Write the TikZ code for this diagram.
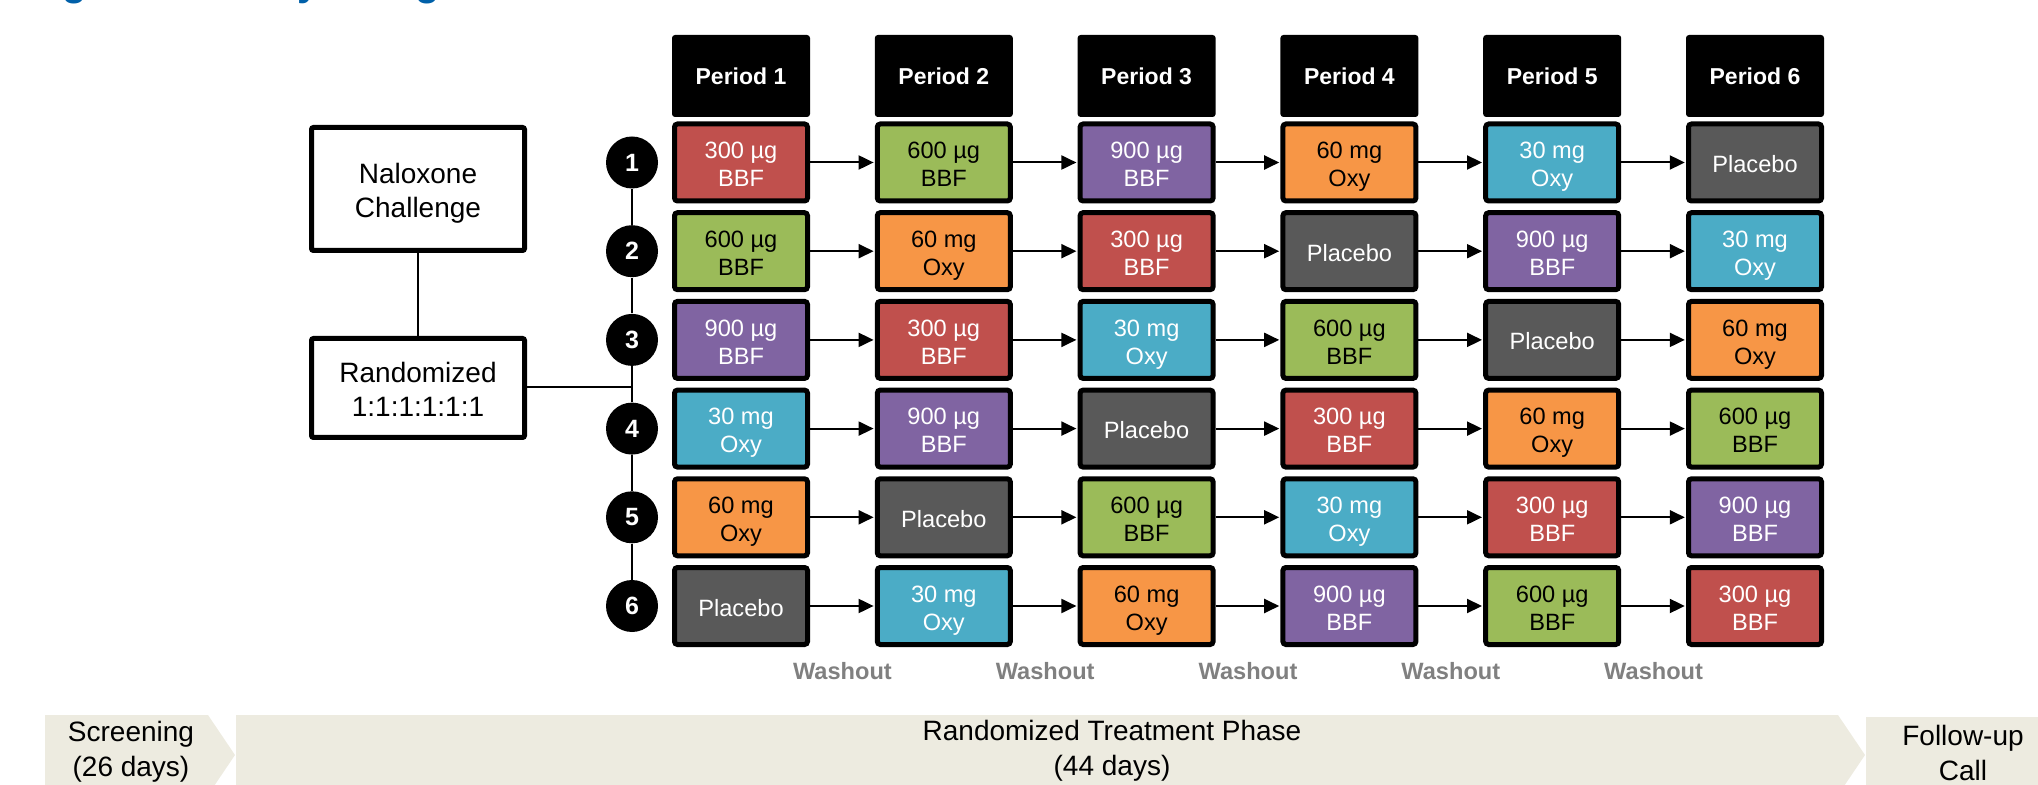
\documentclass[tikz,border=0pt]{standalone}
\usepackage{fontspec}
\setmainfont{Liberation Sans}
\usetikzlibrary{arrows.meta}
\definecolor{colA}{HTML}{C0504D}
\definecolor{colB}{HTML}{9BBB59}
\definecolor{colC}{HTML}{8064A2}
\definecolor{colD}{HTML}{F79646}
\definecolor{colE}{HTML}{4BACC6}
\definecolor{colP}{HTML}{595959}
\colorlet{tcA}{white}
\colorlet{tcB}{black}
\colorlet{tcC}{white}
\colorlet{tcD}{black}
\colorlet{tcE}{white}
\colorlet{tcP}{white}
\definecolor{barc}{HTML}{EDEBE0}
\definecolor{washc}{HTML}{808080}
\definecolor{titleblue}{HTML}{0060A9}
\newcommand\txA{300 µg\\BBF}
\newcommand\txB{600 µg\\BBF}
\newcommand\txC{900 µg\\BBF}
\newcommand\txD{60 mg\\Oxy}
\newcommand\txE{30 mg\\Oxy}
\newcommand\txP{Placebo}
\newcommand\thA{24.2pt}
\newcommand\thB{24.2pt}
\newcommand\thC{24.2pt}
\newcommand\thD{24.2pt}
\newcommand\thE{24.2pt}
\newcommand\thP{10pt}
\tikzset{
  cell/.style={draw=black, line width=2.5pt, rounded corners=1.5pt, minimum width=66.5pt, minimum height=38.5pt, inner sep=0pt, align=center, font=\fontsize{11.8}{14}\selectfont, text depth=0pt},
  header/.style={fill=black, rounded corners=1.5pt, minimum width=69pt, minimum height=41pt, inner sep=0pt, text=white, font=\bfseries\fontsize{11.5}{14}\selectfont},
  numc/.style={circle, fill=black, minimum size=26pt, inner sep=0pt, text=white, font=\bfseries\fontsize{12.5}{14}\selectfont},
  bigbox/.style={draw=black, line width=2.5pt, rounded corners=1pt, minimum width=106.5pt, inner sep=0pt, align=center, font=\fontsize{14}{17.3}\selectfont, text height=29pt, text depth=0pt},
  wash/.style={text=washc, font=\bfseries\fontsize{11.8}{13}\selectfont},
  phase/.style={align=center, font=\fontsize{14}{17.5}\selectfont},
  conn/.style={line width=1pt},
  arr/.style={line width=1pt, -{Triangle[length=7.5pt,width=7pt]}, shorten >=0.6pt},
}
\begin{document}
\begin{tikzpicture}[x=0.5pt,y=-0.5pt]
\useasboundingbox (0,0) rectangle (2038,785);
\clip (0,0) rectangle (2038,785);
% clipped title
\node[anchor=base west, inner sep=0pt, text=titleblue, font=\bfseries\fontsize{20}{24}\selectfont] (title) at (27,-4.5) {Figure 1. Study Design};
% period headers
\foreach \i in {1,...,6}{
  \node[header] (h\i) at ({741+202.8*(\i-1)},76) {Period \i};
}
% circles
\foreach \r in {1,...,6}{
  \node[numc] (n\r) at (632,{162.5+88.7*(\r-1)}) {\r};
}
\foreach \r [remember=\r as \q (initially 1)] in {2,...,6}{
  \draw[conn] (n\q.south) -- (n\r.north);
}
% treatment cells
\foreach \r/\lst in {1/{A,B,C,D,E,P},2/{B,D,A,P,C,E},3/{C,A,E,B,P,D},4/{E,C,P,A,D,B},5/{D,P,B,E,A,C},6/{P,E,D,C,B,A}}{
  \foreach \c [count=\i] in \lst {
    \node[cell, fill=col\c, text=tc\c, text height=\csname th\c\endcsname] (r\r c\i) at ({741+202.8*(\i-1)},{162.5+88.7*(\r-1)}) {\csname tx\c\endcsname};
    \ifnum\i>1
      \pgfmathtruncatemacro\j{\i-1}
      \draw[arr] (r\r c\j.east) -- (r\r c\i.west);
    \fi
  }
}
% left boxes
\node[bigbox, minimum height=61.5pt] (nal) at (418,189) {Naloxone\\Challenge};
\node[bigbox, minimum height=49.5pt] (rand) at (418,388) {Randomized\\1:1:1:1:1:1};
\coordinate (join) at (632,387);
\draw[conn] (nal.south) -- (rand.north);
\draw[conn] (rand.east |- join) -- (join);
% washout labels
\foreach \k in {0,...,4}{
  \node[wash] (w\k) at ({842.4+202.8*\k},671) {Washout};
}
% phase bar
\fill[barc] (45,715) -- (208,715) -- (235,755) -- (208,795) -- (45,795) -- cycle;
\fill[barc] (236,715) -- (1838,715) -- (1865,755) -- (1838,795) -- (236,795) -- cycle;
\fill[barc] (1866,717) -- (2050,717) -- (2050,795) -- (1866,795) -- cycle;
\node[phase] (scr) at (131,751.5) {Screening\\(26 days)};
\node[phase] (trt) at (1112,750.5) {Randomized Treatment Phase\\(44 days)};
\node[phase] (fup) at (1963,753) {Follow-up\\Call};
\end{tikzpicture}
\end{document}
